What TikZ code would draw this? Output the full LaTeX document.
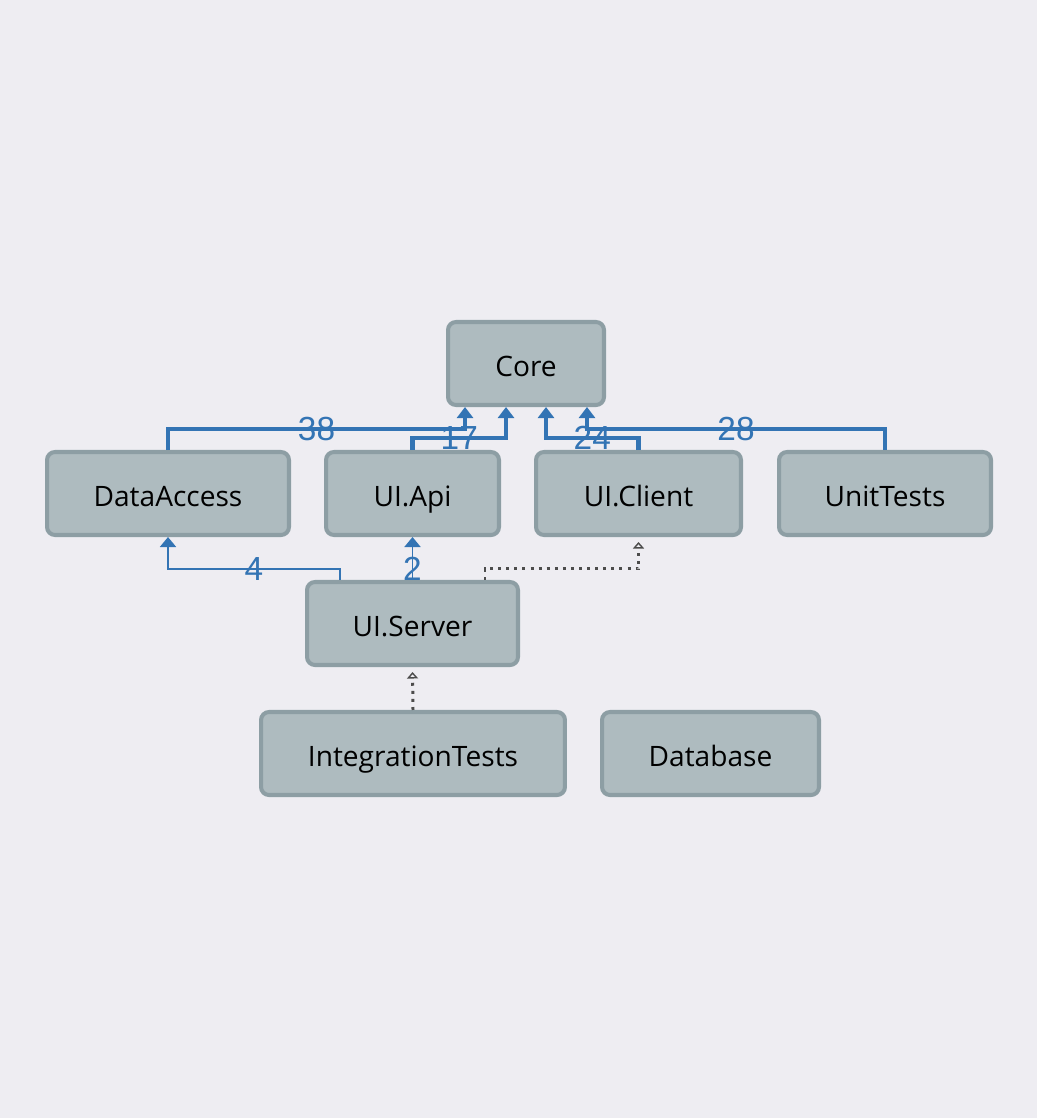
\documentclass[tikz,border=0pt]{standalone}
\usepackage{fontspec}
\setmainfont{Open Sans}
\newfontfamily\numfont{Liberation Sans}
\usetikzlibrary{arrows.meta}
\definecolor{bgcol}{HTML}{EEEDF2}
\definecolor{boxfill}{HTML}{AEBBBF}
\definecolor{boxline}{HTML}{8D9EA4}
\definecolor{depblue}{HTML}{3374B4}
\definecolor{dotgray}{HTML}{4C4C4C}
\tikzset{
  proj/.style={draw=boxline, fill=boxfill, line width=2.3pt, rounded corners=0.16cm,
    minimum height=1.66cm, text height=0.53cm, text depth=0pt,
    font=\fontsize{16}{19}\selectfont, text=black},
  heavy/.style={draw=depblue, line width=2.3pt, -{Triangle[width=0.32cm,length=0.22cm]}},
  light/.style={draw=depblue, line width=1.1pt, -{Triangle[width=0.32cm,length=0.2cm]}},
  weak/.style={draw=dotgray, line width=1.7pt, dash pattern=on 1.7pt off 2.9pt,
    -{Triangle[open,width=0.22cm,length=0.13cm,line width=0.8pt]}},
  count/.style={text=depblue, font=\numfont\fontsize{19}{21}\selectfont, inner sep=0pt}
}

\begin{document}
\begin{tikzpicture}[x=0.02cm, y=-0.02cm]
		\fill[bgcol] (0,0) rectangle (1037,1118);
		\node[proj, minimum width=3.12cm] (Core) at (526,363.5) {Core};
		\node[proj, minimum width=4.84cm] (DataAccess) at (168,493.5) {DataAccess};
		\node[proj, minimum width=3.46cm] (UIApi) at (412.5,493.5) {UI.Api};
		\node[proj, minimum width=4.10cm] (UIClient) at (638.5,493.5) {UI.Client};
		\node[proj, minimum width=4.24cm] (UnitTests) at (885,493.5) {UnitTests};
		\node[proj, minimum width=4.22cm] (UIServer) at (412.5,623.5) {UI.Server};
		\node[proj, minimum width=6.08cm] (IntTests) at (413,753.5) {IntegrationTests};
		\node[proj, minimum width=4.34cm] (Database) at (710.5,753.5) {Database};
		\draw[heavy] (DataAccess.north) -- ++(0,-21) -| node [count, pos=0.25] {38} ([xshift=-1.22cm]Core.south);
		\draw[heavy] (UIApi.north) -- ++(0,-12) -| node [count, pos=0.25] {17} ([xshift=-0.4cm]Core.south);
		\draw[heavy] (UIClient.north) -- ++(0,-12) -| node [count, pos=0.25] {24} ([xshift=0.4cm]Core.south);
		\draw[heavy] (UnitTests.north) -- ++(0,-21) -| node [count, pos=0.25] {28} ([xshift=1.22cm]Core.south);
		\draw[light] ([xshift=-1.45cm]UIServer.north) -- ++(0,-11) -| node [count, pos=0.25] {4} (DataAccess.south);
		\draw[light] (UIServer.north) to node [count, pos=0.25] {2} (UIApi.south);
		\draw[weak] ([xshift=1.45cm]UIServer.north) -- ++(0,-11) -| ([yshift=-0.1cm]UIClient.south);
		\draw[weak] (IntTests.north) to ([yshift=-0.1cm]UIServer.south);
	\end{tikzpicture}
\end{document}
